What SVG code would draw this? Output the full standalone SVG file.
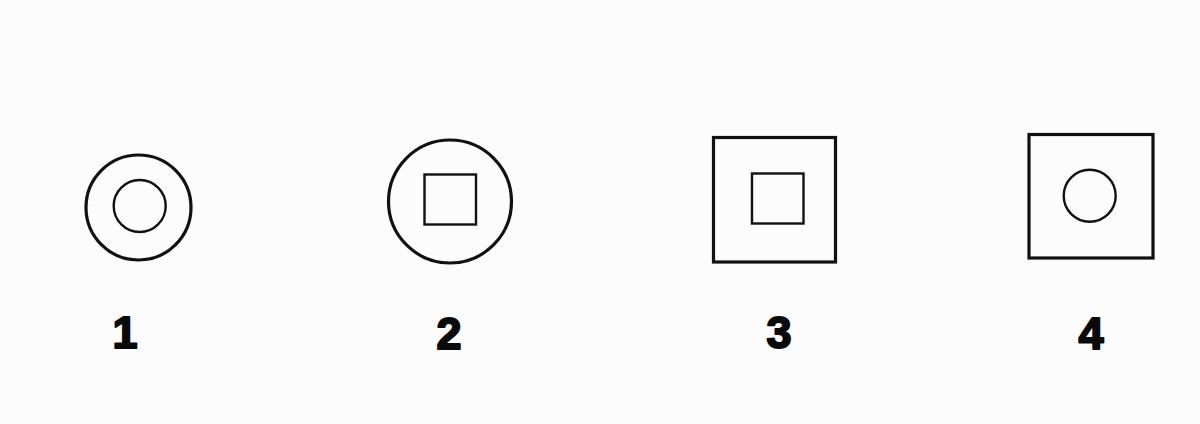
<svg xmlns="http://www.w3.org/2000/svg" width="1200" height="424" viewBox="0 0 1200 424">
<style>
.outer{fill:none;stroke:#111;stroke-width:3.2}
.inner{fill:none;stroke:#111;stroke-width:2.4}
.lbl{font-family:"Liberation Sans",Arial,sans-serif;font-weight:bold;font-size:45px;fill:#0a0a0a;stroke:#0a0a0a;stroke-width:2;stroke-linejoin:round;text-anchor:middle}
</style>
<rect x="0" y="0" width="1200" height="424" fill="#fcfcfc"/>
<g id="fig1">
<circle class="outer" cx="138.5" cy="207.5" r="52.5"/>
<circle class="inner" cx="139.7" cy="206" r="26"/>
<text class="lbl" x="125" y="348">1</text>
</g>
<g id="fig2">
<circle class="outer" cx="450" cy="201.5" r="61.5"/>
<rect class="inner" x="424.5" y="174.5" width="51.5" height="50"/>
<text class="lbl" x="449" y="348.5">2</text>
</g>
<g id="fig3">
<rect class="outer" x="713.5" y="137.5" width="122" height="124.5"/>
<rect class="inner" x="752" y="173.5" width="51.5" height="50"/>
<text class="lbl" x="779" y="348">3</text>
</g>
<g id="fig4">
<rect class="outer" x="1029" y="134.5" width="124" height="123.5"/>
<circle class="inner" cx="1089.7" cy="195.8" r="26"/>
<text class="lbl" x="1091" y="348.5">4</text>
</g>
<g id="connectors"/>
</svg>
